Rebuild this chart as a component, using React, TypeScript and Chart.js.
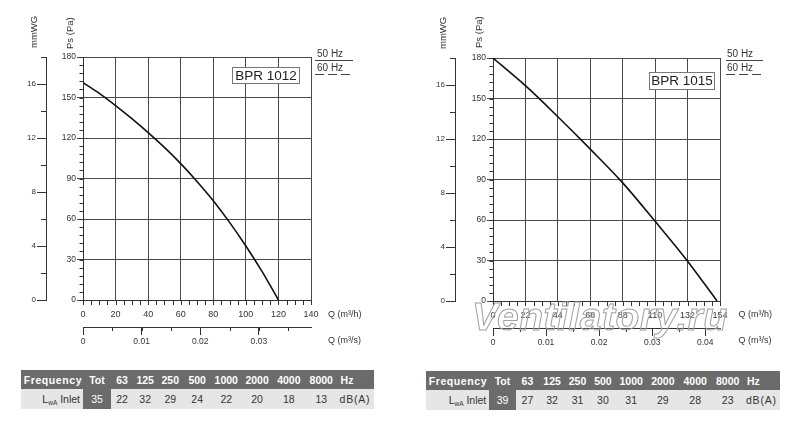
import React, { useEffect, useRef } from "react";
import Chart from "chart.js/auto";

const FONT = "'Liberation Sans', Arial, Helvetica, sans-serif";
Chart.defaults.font.family = FONT;

// BPR 1012 curve, Q (m3/h) vs Ps (Pa)
const flowLeft = [0, 10, 20, 30, 40, 50, 60, 70, 80, 90, 100, 110, 120];
const pressureLeft = [161, 153, 144, 134.3, 124, 113, 101, 87.8, 73.5, 57.5, 40, 21, 0];

// BPR 1015 curve
const flowRight = [0, 22, 44, 66, 88, 110, 132, 152];
const pressureRight = [180, 159.5, 136.5, 112.5, 87.5, 59, 29.5, 0];

// axis ticks
const flowTicksLeft = [0, 20, 40, 60, 80, 100, 120, 140];
const flowTicksRight = [0, 22, 44, 66, 88, 110, 132, 154];
const flowSecTicksLeft = [0, 0.01, 0.02, 0.03];
const flowSecTicksRight = [0, 0.01, 0.02, 0.03, 0.04];
const pressureTicks = [0, 30, 60, 90, 120, 150, 180];
const mmwgTicks = [0, 4, 8, 12, 16];

// sound power table
const bands = ["Tot", "63", "125", "250", "500", "1000", "2000", "4000", "8000"];
const soundLeft = [35, 22, 32, 29, 24, 22, 20, 18, 13];
const soundRight = [39, 27, 32, 31, 30, 31, 29, 28, 23];

const axisColor = "#333";
const gridColor = "#4a4a4a";
const labelColor = "#333";

// short unlabeled tick marks between the major ones
const minorTicksPlugin = {
  id: "minorTicks",
  afterDraw(chart: any, _args: any, opts: any) {
    const ctx = chart.ctx;
    ctx.save();
    ctx.strokeStyle = axisColor;
    ctx.lineWidth = 1;
    for (const m of opts.marks || []) {
      const s = chart.scales[m.axis];
      const n = Math.floor((s.max - s.min) / m.step + 1e-6);
      for (let i = 0; i <= n; i++) {
        const p = Math.round(s.getPixelForValue(s.min + i * m.step)) + 0.5;
        ctx.beginPath();
        if (s.isHorizontal()) {
          const y0 = Math.round(s.top);
          ctx.moveTo(p, y0);
          ctx.lineTo(p, y0 + m.length);
        } else {
          const x0 = Math.round(s.right);
          ctx.moveTo(x0, p);
          ctx.lineTo(x0 - m.length, p);
        }
        ctx.stroke();
      }
    }
    ctx.restore();
  },
};

interface FanChartProps {
  flow: number[];
  pressure: number[];
  flowTicks: number[];
  flowSecTicks: number[];
  flowMax: number;
  flowStep: number;
  left: number;
  width: number;
  height: number;
  padTop: number;
  padRight: number;
  mmWidth: number;
  paWidth: number;
}

const FanChart: React.FC<FanChartProps> = (p) => {
  const canvasRef = useRef<HTMLCanvasElement | null>(null);

  useEffect(() => {
    if (!canvasRef.current) return;
    const setTicks = (list: number[]) => (scale: any) => {
      scale.ticks = list.map((value) => ({ value }));
    };
    const chart = new Chart(canvasRef.current, {
      type: "line",
      data: {
        datasets: [
          {
            data: p.flow.map((x, i) => ({ x, y: p.pressure[i] })),
            borderColor: "#111",
            borderWidth: 1.6,
            pointRadius: 0,
            cubicInterpolationMode: "monotone",
            fill: false,
            xAxisID: "x",
            yAxisID: "y",
          },
        ],
      },
      options: {
        animation: false,
        responsive: true,
        maintainAspectRatio: false,
        events: [],
        layout: { padding: { top: p.padTop, right: p.padRight, left: 0, bottom: 0 } },
        plugins: {
          legend: { display: false },
          tooltip: { enabled: false },
          minorTicks: {
            marks: [
              { axis: "x", step: p.flowStep, length: 5 },
              { axis: "xs", step: 0.005, length: 4 },
              { axis: "y", step: 6, length: 3.5 },
              { axis: "mm", step: 2, length: 5 },
            ],
          },
        } as any,
        scales: {
          x: {
            type: "linear",
            position: "bottom",
            weight: 0,
            min: 0,
            max: p.flowMax,
            afterBuildTicks: setTicks(p.flowTicks),
            afterFit: (s: any) => {
              s.height = 27;
            },
            grid: { color: gridColor, lineWidth: 1, drawTicks: false },
            border: { display: true, color: axisColor },
            ticks: { padding: 9, autoSkip: false, maxRotation: 0, color: labelColor, font: { size: 9 } },
          },
          xs: {
            type: "linear",
            position: "bottom",
            weight: 1,
            min: 0,
            max: p.flowMax / 3600,
            afterBuildTicks: setTicks(p.flowSecTicks),
            afterFit: (s: any) => {
              s.height = 33;
            },
            grid: { drawOnChartArea: false, drawTicks: true, tickLength: 8, color: axisColor },
            border: { display: true, color: axisColor },
            ticks: {
              padding: 2,
              autoSkip: false,
              maxRotation: 0,
              color: labelColor,
              font: { size: 8.5 },
              callback: (v: any) => (Number(v) === 0 ? "0" : Number(v).toFixed(2)),
            },
          },
          y: {
            type: "linear",
            position: "left",
            weight: 0,
            min: 0,
            max: 180,
            afterBuildTicks: setTicks(pressureTicks),
            afterFit: (s: any) => {
              s.width = p.paWidth;
            },
            grid: { color: gridColor, lineWidth: 1, tickLength: 6 },
            border: { display: true, color: axisColor },
            ticks: { padding: 1, autoSkip: false, color: labelColor, font: { size: 8.5 } },
          },
          mm: {
            type: "linear",
            position: "left",
            weight: 1,
            display: true,
            min: 0,
            max: 18,
            afterBuildTicks: setTicks(mmwgTicks),
            afterFit: (s: any) => {
              s.width = p.mmWidth;
            },
            grid: { drawOnChartArea: false, drawTicks: true, tickLength: 9, color: axisColor },
            border: { display: true, color: axisColor },
            ticks: { padding: 1, autoSkip: false, color: labelColor, font: { size: 8 } },
          },
        },
      },
      plugins: [minorTicksPlugin],
    } as any);
    return () => {
      chart.destroy();
    };
  }, [p]);

  return (
    <div style={{ position: "absolute", left: p.left, top: 0, width: p.width, height: p.height }}>
      <canvas ref={canvasRef} />
    </div>
  );
};

const text = (left: number, top: number, size: number, extra: React.CSSProperties = {}): React.CSSProperties => ({
  position: "absolute",
  left,
  top,
  fontSize: size,
  lineHeight: `${size + 2}px`,
  color: labelColor,
  whiteSpace: "nowrap",
  ...extra,
});

const vertical = (centerX: number, bottom: number): React.CSSProperties => ({
  position: "absolute",
  left: centerX - 5,
  top: bottom,
  fontSize: 9.5,
  lineHeight: "10px",
  color: labelColor,
  whiteSpace: "nowrap",
  transformOrigin: "0 0",
  transform: "rotate(-90deg)",
});

const Legend: React.FC<{ x: number; lineX: number; lineW: number }> = ({ x, lineX, lineW }) => (
  <>
    <div style={text(x, 48, 10)}>50 Hz</div>
    <div style={{ position: "absolute", left: lineX, top: 60, width: lineW, height: 1, background: "#444" }} />
    <div style={text(x, 62, 10)}>60 Hz</div>
    <div
      style={{
        position: "absolute",
        left: lineX,
        top: 74,
        width: lineW,
        height: 1,
        background: "repeating-linear-gradient(to right, #444 0 9px, transparent 9px 13px)",
      }}
    />
  </>
);

const ModelBox: React.FC<{ label: string; left: number; top: number; width: number; height: number }> = (b) => (
  <div
    style={{
      position: "absolute",
      left: b.left,
      top: b.top,
      width: b.width,
      height: b.height,
      boxSizing: "border-box",
      border: "1px solid #777",
      background: "#fff",
      fontSize: 13.5,
      lineHeight: `${b.height - 2}px`,
      textAlign: "center",
      color: "#222",
    }}
  >
    {b.label}
  </div>
);

const SoundTable: React.FC<{ left: number; top: number; widths: number[]; values: number[] }> = ({
  left,
  top,
  widths,
  values,
}) => {
  const dark = "#6b6b6b";
  const cell: React.CSSProperties = { padding: 0, textAlign: "center", whiteSpace: "nowrap" };
  return (
    <table
      style={{
        position: "absolute",
        left,
        top,
        width: widths.reduce((a, b) => a + b, 0),
        borderCollapse: "collapse",
        tableLayout: "fixed",
        fontSize: 10.5,
        fontFamily: FONT,
      }}
    >
      <colgroup>
        {widths.map((w, i) => (
          <col key={i} style={{ width: w }} />
        ))}
      </colgroup>
      <tbody>
        <tr style={{ height: 19, background: dark, color: "#fff", fontWeight: "bold" }}>
          <td style={{ ...cell, textAlign: "left", paddingLeft: 3, letterSpacing: 0.6 }}>Frequency</td>
          {bands.map((b) => (
            <td key={b} style={cell}>
              {b}
            </td>
          ))}
          <td style={{ ...cell, textAlign: "left", paddingLeft: 3 }}>Hz</td>
        </tr>
        <tr style={{ height: 20, background: "#e6e6e6", color: "#333" }}>
          <td style={{ ...cell, textAlign: "right", paddingRight: 3 }}>
            L<sub style={{ fontSize: 6.5, lineHeight: 0, verticalAlign: "-2px" }}>wA</sub> Inlet
          </td>
          {values.map((v, i) => (
            <td key={i} style={i === 0 ? { ...cell, background: dark, color: "#fff" } : cell}>
              {v}
            </td>
          ))}
          <td style={{ ...cell, textAlign: "left", paddingLeft: 2, letterSpacing: 0.8 }}>dB(A)</td>
        </tr>
      </tbody>
    </table>
  );
};

const leftChart: FanChartProps = {
  flow: flowLeft,
  pressure: pressureLeft,
  flowTicks: flowTicksLeft,
  flowSecTicks: flowSecTicksLeft,
  flowMax: 140,
  flowStep: 5,
  left: 0,
  width: 400,
  height: 360,
  padTop: 57,
  padRight: 89,
  mmWidth: 46,
  paWidth: 37,
};

const rightChart: FanChartProps = {
  flow: flowRight,
  pressure: pressureRight,
  flowTicks: flowTicksRight,
  flowSecTicks: flowSecTicksRight,
  flowMax: 154,
  flowStep: 5.5,
  left: 400,
  width: 400,
  height: 361,
  padTop: 58,
  padRight: 80,
  mmWidth: 55,
  paWidth: 38,
};

export default function App() {
  return (
    <div
      style={{
        position: "absolute",
        left: 0,
        top: 0,
        width: 800,
        height: 437,
        background: "#fff",
        overflow: "hidden",
        fontFamily: FONT,
      }}
    >
      <FanChart {...leftChart} />
      <FanChart {...rightChart} />

      {/* left panel annotations */}
      <div style={vertical(34, 48)}>mmWG</div>
      <div style={vertical(69.5, 49)}>Ps (Pa)</div>
      <Legend x={317} lineX={315} lineW={38} />
      <ModelBox label="BPR 1012" left={232} top={67} width={68} height={17} />
      <div style={text(328, 308.5, 9)}>Q (m³/h)</div>
      <div style={text(328, 334.5, 9)}>Q (m³/s)</div>
      <SoundTable
        left={20.7}
        top={370}
        widths={[62.3, 28, 22.15, 24.15, 26, 27.85, 30.35, 31.3, 32.15, 32.7, 36.65]}
        values={soundLeft}
      />

      {/* right panel annotations */}
      <div style={vertical(443, 49)}>mmWG</div>
      <div style={vertical(479.3, 48)}>Ps (Pa)</div>
      <Legend x={727} lineX={726} lineW={37} />
      <ModelBox label="BPR 1015" left={649} top={72} width={66} height={17.5} />
      <div style={text(738.5, 308.5, 9)}>Q (m³/h)</div>
      <div style={text(738.5, 335, 9)}>Q (m³/s)</div>
      <SoundTable
        left={425.7}
        top={371}
        widths={[63.6, 26.4, 23.5, 25.8, 25, 25.85, 30.8, 32.5, 32.2, 32.7, 35.95]}
        values={soundRight}
      />

      <div
        style={{
          position: "absolute",
          left: 472,
          top: 297,
          fontSize: 39,
          lineHeight: "39px",
          fontWeight: "bold",
          fontStyle: "italic",
          letterSpacing: 0.5,
          color: "rgba(255,255,255,0.15)",
          WebkitTextStroke: "1px #a0a0a0",
          whiteSpace: "nowrap",
          pointerEvents: "none",
        }}
      >
        Ventilatory.ru
      </div>
    </div>
  );
}
